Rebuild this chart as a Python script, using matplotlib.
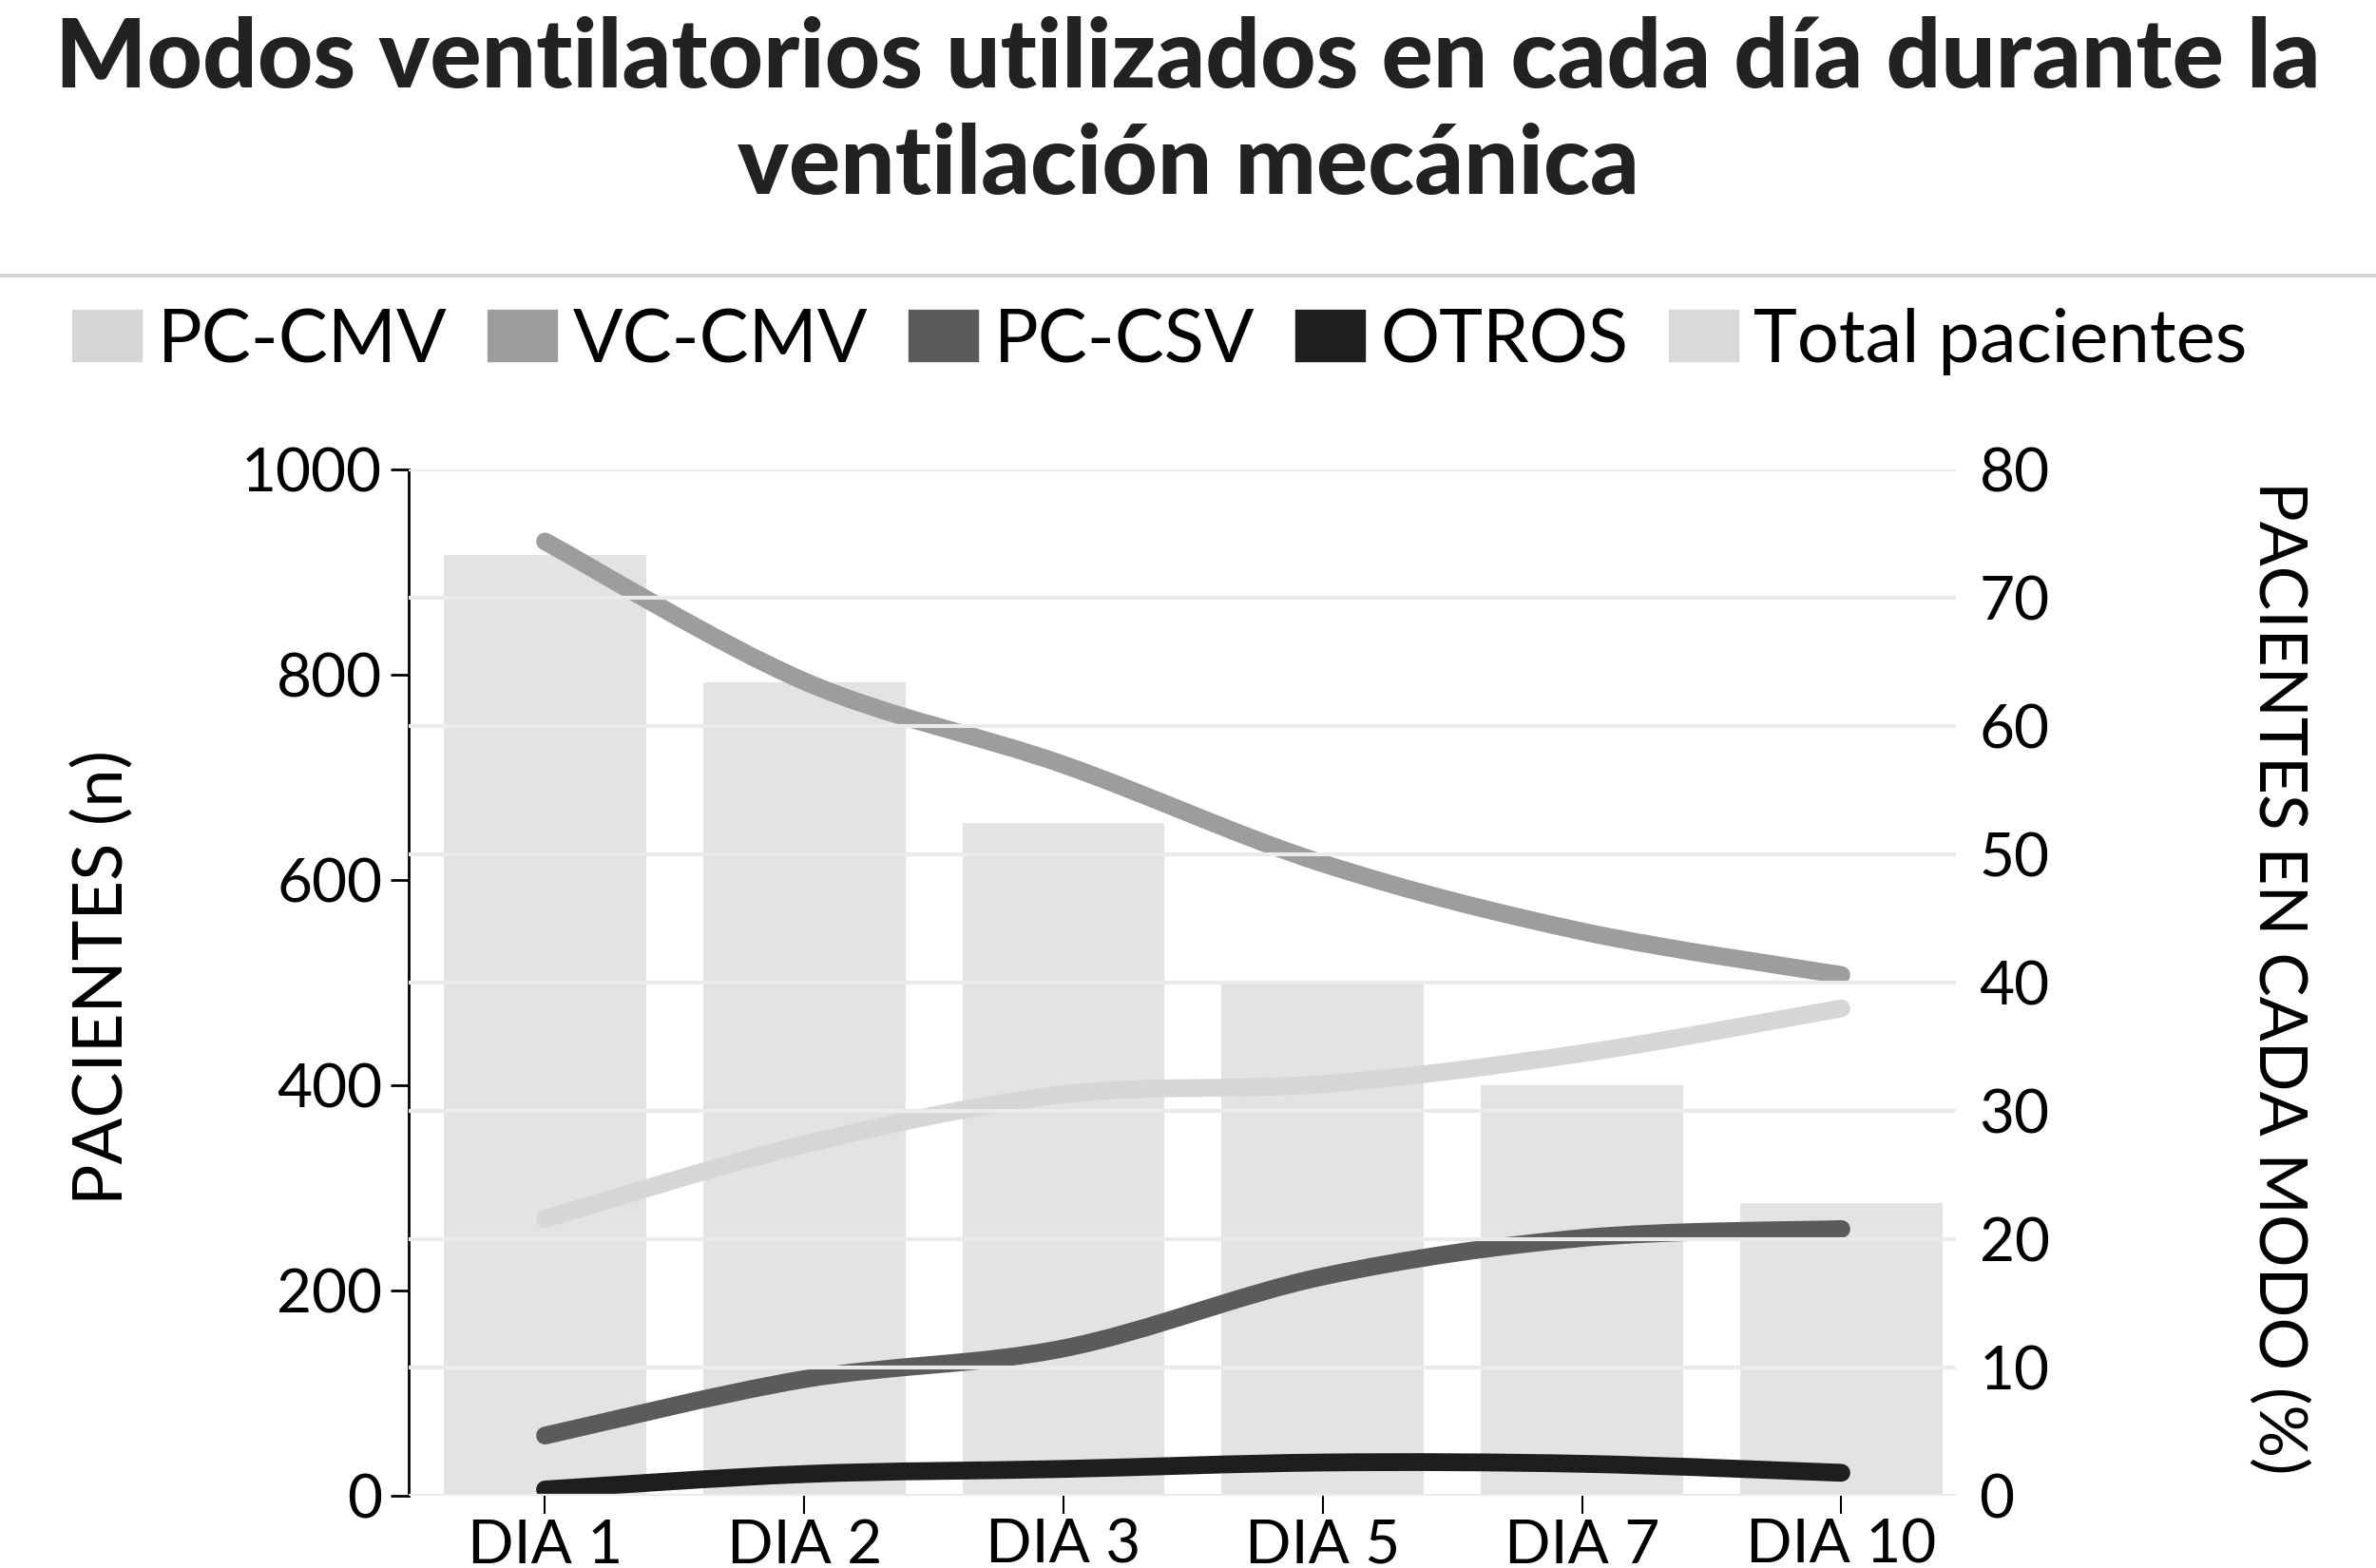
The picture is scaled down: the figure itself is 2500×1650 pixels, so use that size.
import matplotlib
matplotlib.use("Agg")
import matplotlib.pyplot as plt
from matplotlib.patches import Patch, PathPatch
from matplotlib.path import Path
import numpy as np

plt.rcParams['font.family'] = ['Lato', 'DejaVu Sans']

# data
days = ["DIA 1", "DIA 2", "DIA 3", "DIA 5", "DIA 7", "DIA 10"]
total_pacientes = [917, 793, 656, 502, 400, 285]
pc_cmv = [21.6, 27.4, 31.3, 32.1, 34.5, 38.0]
vc_cmv = [74.4, 63.5, 57.0, 49.3, 44.0, 40.6]
pc_csv = [4.7, 9.1, 11.5, 17.1, 20.1, 20.8]
otros = [0.5, 1.7, 2.1, 2.6, 2.5, 1.8]

series = [("PC-CMV", pc_cmv, "#d6d6d6"),
          ("VC-CMV", vc_cmv, "#9e9d9e"),
          ("PC-CSV", pc_csv, "#5b5b5b"),
          ("OTROS", otros, "#1e1e1e")]
bar_color = "#e4e3e4"


def spline_path(xs, ys, k=1.0):
    """Catmull-Rom style bezier path through the points"""
    pts = np.column_stack([xs, ys]).astype(float)
    n = len(pts)
    verts = [pts[0]]
    codes = [Path.MOVETO]
    for i in range(n - 1):
        p0 = pts[i - 1] if i > 0 else pts[i]
        p1 = pts[i]
        p2 = pts[i + 1]
        p3 = pts[i + 2] if i + 2 < n else pts[i + 1]
        c1 = p1 + (p2 - p0) / 6.0 * k
        c2 = p2 - (p3 - p1) / 6.0 * k
        verts += [c1, c2, p2]
        codes += [Path.CURVE4] * 3
    return Path(verts, codes)


fig = plt.figure(figsize=(25, 16.5), dpi=100)
ax = fig.add_axes([0.172, 0.046, 0.651, 0.6545])
ax2 = ax.twinx()

x = np.arange(len(days))
ax.bar(x, total_pacientes, width=0.78, color=bar_color, zorder=1)
ax.set_ylim(0, 1000)
ax.set_yticks(range(0, 1001, 200))
ax.set_xlim(-0.526, 5.44)
ax.set_xticks(x)
ax.set_xticklabels(days)

ax2.set_ylim(0, 80)
ax2.set_yticks(range(0, 81, 10))
ax2.grid(axis="y", color="#ebebeb", linewidth=3)
ax2.set_axisbelow(False)

for name, vals, col in series:
    pp = PathPatch(spline_path(x, vals), facecolor="none", edgecolor=col,
                   linewidth=13.5, capstyle="round", joinstyle="round")
    ax2.add_patch(pp)

for a in (ax, ax2):
    for s in ("top", "right", "bottom", "left"):
        a.spines[s].set_visible(False)
ax.spines["left"].set_visible(True)
ax.spines["left"].set_linewidth(2)
ax.spines["left"].set_color("black")

ax.tick_params(axis="y", length=14, width=2, labelsize=46, pad=6)
ax.tick_params(axis="x", length=14, width=1.5, labelsize=46, pad=3)
ax2.tick_params(axis="y", length=0, labelsize=46, pad=18)

ax.set_ylabel("PACIENTES (n)", fontsize=52)
ax.yaxis.set_label_coords(-0.177, 0.505)
ax2.set_ylabel("PACIENTES EN CADA MODO (%)", fontsize=50, rotation=270)
ax2.yaxis.set_label_coords(1.229, 0.505)

fig.text(0.5, 0.928, "Modos ventilatorios utilizados en cada día durante la\nventilación mecánica",
         ha="center", va="center", fontsize=73, fontweight=900, color="#222222",
         linespacing=1.27)

fig.add_artist(plt.Line2D([0, 1], [1 - 290 / 1650, 1 - 290 / 1650],
                          color="#d4d4d4", linewidth=3, transform=fig.transFigure))

handles = [Patch(facecolor=c, edgecolor=c, linewidth=6, joinstyle="round", label=n)
           for n, _, c in series]
handles.append(Patch(facecolor="#d9d9d9", edgecolor="#d9d9d9", linewidth=6,
                     joinstyle="round", label="Total pacientes"))
fig.legend(handles=handles, loc="center", bbox_to_anchor=(0.489, 0.782), ncol=5,
           frameon=False, fontsize=56, handlelength=0.85, handleheight=0.55,
           handletextpad=0.25, columnspacing=0.6)

fig.savefig("out.png", dpi=100)
